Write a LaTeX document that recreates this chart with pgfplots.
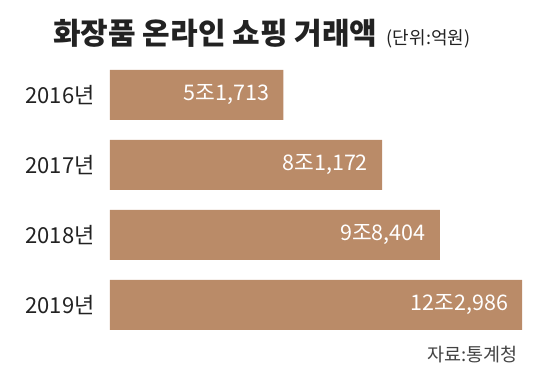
\documentclass[border=0pt]{standalone}
\usepackage{pgfplots}
\usepackage{pgfplotstable}
\pgfplotsset{compat=1.18}
\usepackage{fontspec}
\setmainfont{Noto Sans CJK KR}
\newfontfamily\kr{Noto Sans CJK KR}
\definecolor{barc}{RGB}{186,139,104}
\definecolor{txt}{RGB}{34,34,34}
\pgfplotstableread{
x y label
51713 0 5조1,713
81172 1 8조1,172
98404 2 9조8,404
122986 3 12조2,986
}\datatable
\begin{document}
\begin{tikzpicture}
\useasboundingbox (0pt,0pt) rectangle (541pt,382pt);
\begin{axis}[
  anchor=south west, at={(110pt,42pt)},
  scale only axis, width=420pt, height=280pt,
  xmin=0, xmax=125300, ymin=-0.5, ymax=3.5, y dir=reverse,
  axis line style={draw=none}, tick style={draw=none},
  xtick=\empty, ytick={0,1,2,3},
  yticklabels={2016년,2017년,2018년,2019년},
  yticklabel style={font=\kr\fontsize{22}{22}\selectfont, text=txt, anchor=east, inner sep=0pt, xshift=-11pt},
  xbar, bar width=50pt, bar shift=0pt,
  point meta=explicit symbolic,
  nodes near coords={\pgfplotspointmeta},
  nodes near coords style={anchor=east, text=white, inner sep=0pt, xshift=-14pt, font=\kr\fontsize{21.5}{21.5}\selectfont},
  clip=false,
]
\addplot[fill=barc, draw=none] table[x=x, y=y, meta=label] {\datatable};
\end{axis}
\node[anchor=west, inner sep=0pt, text=txt, font=\kr\bfseries\fontsize{30}{30}\selectfont] (t) at (53pt,349pt) {화장품 온라인 쇼핑 거래액};
\node[anchor=base west, inner sep=0pt, text=txt, font=\kr\fontsize{18}{18}\selectfont] at ([xshift=9pt]t.base east) {(단위:억원)};
\node[anchor=east, inner sep=0pt, text=txt!85, font=\kr\fontsize{18.5}{18.5}\selectfont] at (518pt,27pt) {자료:통계청};
\end{tikzpicture}
\end{document}
